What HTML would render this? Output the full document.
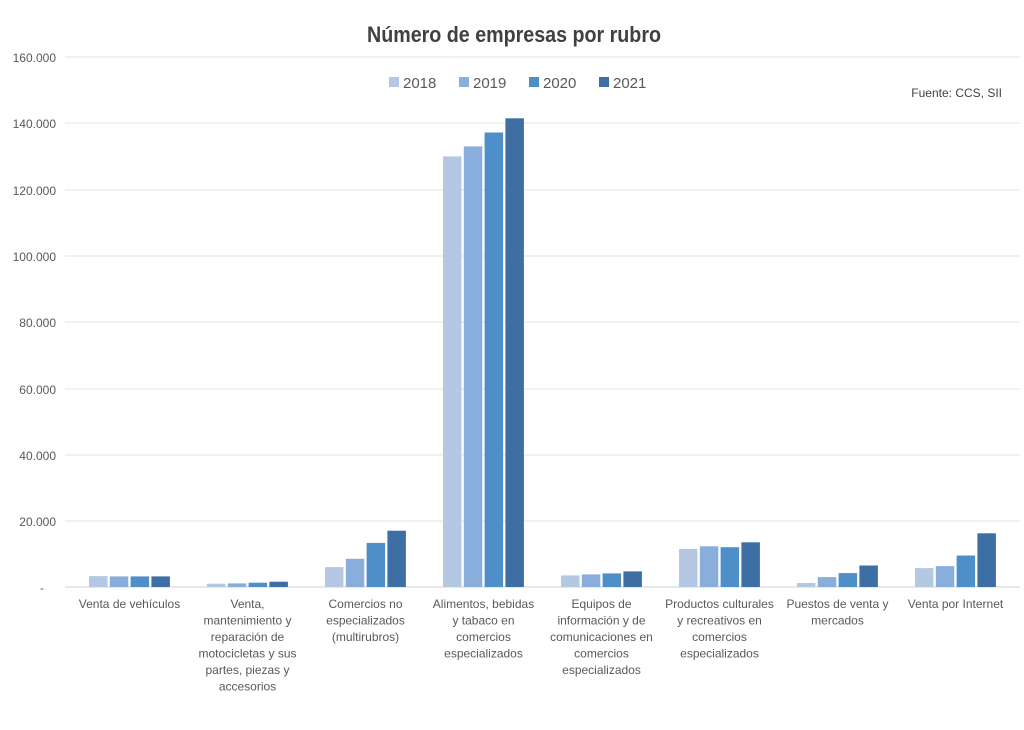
<!DOCTYPE html>
<html><head><meta charset="utf-8"><style>
body{margin:0;background:#fff;}
svg text{font-family:"Liberation Sans",sans-serif;fill:#595959;}
</style></head><body>
<svg width="1024" height="725" viewBox="0 0 1024 725" xmlns="http://www.w3.org/2000/svg">
<rect width="1024" height="725" fill="#fff"/>
<text x="367" y="42" font-size="22" font-weight="bold" textLength="294" lengthAdjust="spacingAndGlyphs" style="fill:#404040">Número de empresas por rubro</text>
<g stroke="#e3e3e3" stroke-width="1">
<line x1="65" x2="1020" y1="57" y2="57"/><line x1="65" x2="1020" y1="123" y2="123"/>
<line x1="65" x2="1020" y1="190" y2="190"/><line x1="65" x2="1020" y1="256" y2="256"/>
<line x1="65" x2="1020" y1="322" y2="322"/><line x1="65" x2="1020" y1="389" y2="389"/>
<line x1="65" x2="1020" y1="455" y2="455"/><line x1="65" x2="1020" y1="521" y2="521"/>
</g>
<line x1="65" x2="1020" y1="587" y2="587" stroke="#d0d0d0"/>
<g font-size="12" text-anchor="end">
<text x="56" y="62">160.000</text><text x="56" y="128">140.000</text><text x="56" y="195">120.000</text>
<text x="56" y="261">100.000</text><text x="56" y="327">80.000</text><text x="56" y="394">60.000</text>
<text x="56" y="460">40.000</text><text x="56" y="526">20.000</text><text x="44" y="592">-</text>
</g>
<g font-size="15">
<rect x="389" y="77" width="10" height="10" fill="#b4c8e4"/><text x="403" y="88">2018</text>
<rect x="459" y="77" width="10" height="10" fill="#8aaedb"/><text x="473" y="88">2019</text>
<rect x="529" y="77" width="10" height="10" fill="#4f8fc9"/><text x="543" y="88">2020</text>
<rect x="599" y="77" width="10" height="10" fill="#3d6fa4"/><text x="613" y="88">2021</text>
</g>
<text x="1002" y="97" font-size="12" text-anchor="end" style="fill:#404040">Fuente: CCS, SII</text>
<g transform="translate(0,587)">
<g fill="#b4c8e4">
<rect x="89" y="-10.9" width="18.5" height="10.9"/>
<rect x="207" y="-3.3" width="18.5" height="3.3"/>
<rect x="325" y="-19.9" width="18.5" height="19.9"/>
<rect x="443" y="-430.6" width="18.5" height="430.6"/>
<rect x="561" y="-11.6" width="18.5" height="11.6"/>
<rect x="679" y="-38.1" width="18.5" height="38.1"/>
<rect x="797" y="-4" width="18.5" height="4"/>
<rect x="915" y="-18.9" width="18.5" height="18.9"/>
</g>
<g fill="#8aaedb">
<rect x="109.8" y="-10.6" width="18.5" height="10.6"/>
<rect x="227.8" y="-3.6" width="18.5" height="3.6"/>
<rect x="345.8" y="-28.2" width="18.5" height="28.2"/>
<rect x="463.8" y="-440.6" width="18.5" height="440.6"/>
<rect x="581.8" y="-12.6" width="18.5" height="12.6"/>
<rect x="699.8" y="-40.7" width="18.5" height="40.7"/>
<rect x="817.8" y="-9.9" width="18.5" height="9.9"/>
<rect x="935.8" y="-20.9" width="18.5" height="20.9"/>
</g>
<g fill="#4f8fc9">
<rect x="130.6" y="-10.6" width="18.5" height="10.6"/>
<rect x="248.6" y="-4.3" width="18.5" height="4.3"/>
<rect x="366.6" y="-44.1" width="18.5" height="44.1"/>
<rect x="484.6" y="-454.5" width="18.5" height="454.5"/>
<rect x="602.6" y="-13.6" width="18.5" height="13.6"/>
<rect x="720.6" y="-39.8" width="18.5" height="39.8"/>
<rect x="838.6" y="-13.9" width="18.5" height="13.9"/>
<rect x="956.6" y="-31.5" width="18.5" height="31.5"/>
</g>
<g fill="#3d6fa4">
<rect x="151.4" y="-10.6" width="18.5" height="10.6"/>
<rect x="269.4" y="-5.3" width="18.5" height="5.3"/>
<rect x="387.4" y="-56.3" width="18.5" height="56.3"/>
<rect x="505.4" y="-468.7" width="18.5" height="468.7"/>
<rect x="623.4" y="-15.6" width="18.5" height="15.6"/>
<rect x="741.4" y="-44.7" width="18.5" height="44.7"/>
<rect x="859.4" y="-21.5" width="18.5" height="21.5"/>
<rect x="977.4" y="-53.7" width="18.5" height="53.7"/>
</g>
</g>
<g font-size="12" text-anchor="middle">
<text x="129.5" y="608">Venta de vehículos</text>
<text x="247.5" y="608">Venta,</text>
<text x="247.5" y="624.5">mantenimiento y</text>
<text x="247.5" y="641">reparación de</text>
<text x="247.5" y="657.5">motocicletas y sus</text>
<text x="247.5" y="674">partes, piezas y</text>
<text x="247.5" y="690.5">accesorios</text>
<text x="365.5" y="608">Comercios no</text>
<text x="365.5" y="624.5">especializados</text>
<text x="365.5" y="641">(multirubros)</text>
<text x="483.5" y="608">Alimentos, bebidas</text>
<text x="483.5" y="624.5">y tabaco en</text>
<text x="483.5" y="641">comercios</text>
<text x="483.5" y="657.5">especializados</text>
<text x="601.5" y="608">Equipos de</text>
<text x="601.5" y="624.5">información y de</text>
<text x="601.5" y="641">comunicaciones en</text>
<text x="601.5" y="657.5">comercios</text>
<text x="601.5" y="674">especializados</text>
<text x="719.5" y="608">Productos culturales</text>
<text x="719.5" y="624.5">y recreativos en</text>
<text x="719.5" y="641">comercios</text>
<text x="719.5" y="657.5">especializados</text>
<text x="837.5" y="608">Puestos de venta y</text>
<text x="837.5" y="624.5">mercados</text>
<text x="955.5" y="608">Venta por Internet</text>
</g>
</svg>
</body></html>
